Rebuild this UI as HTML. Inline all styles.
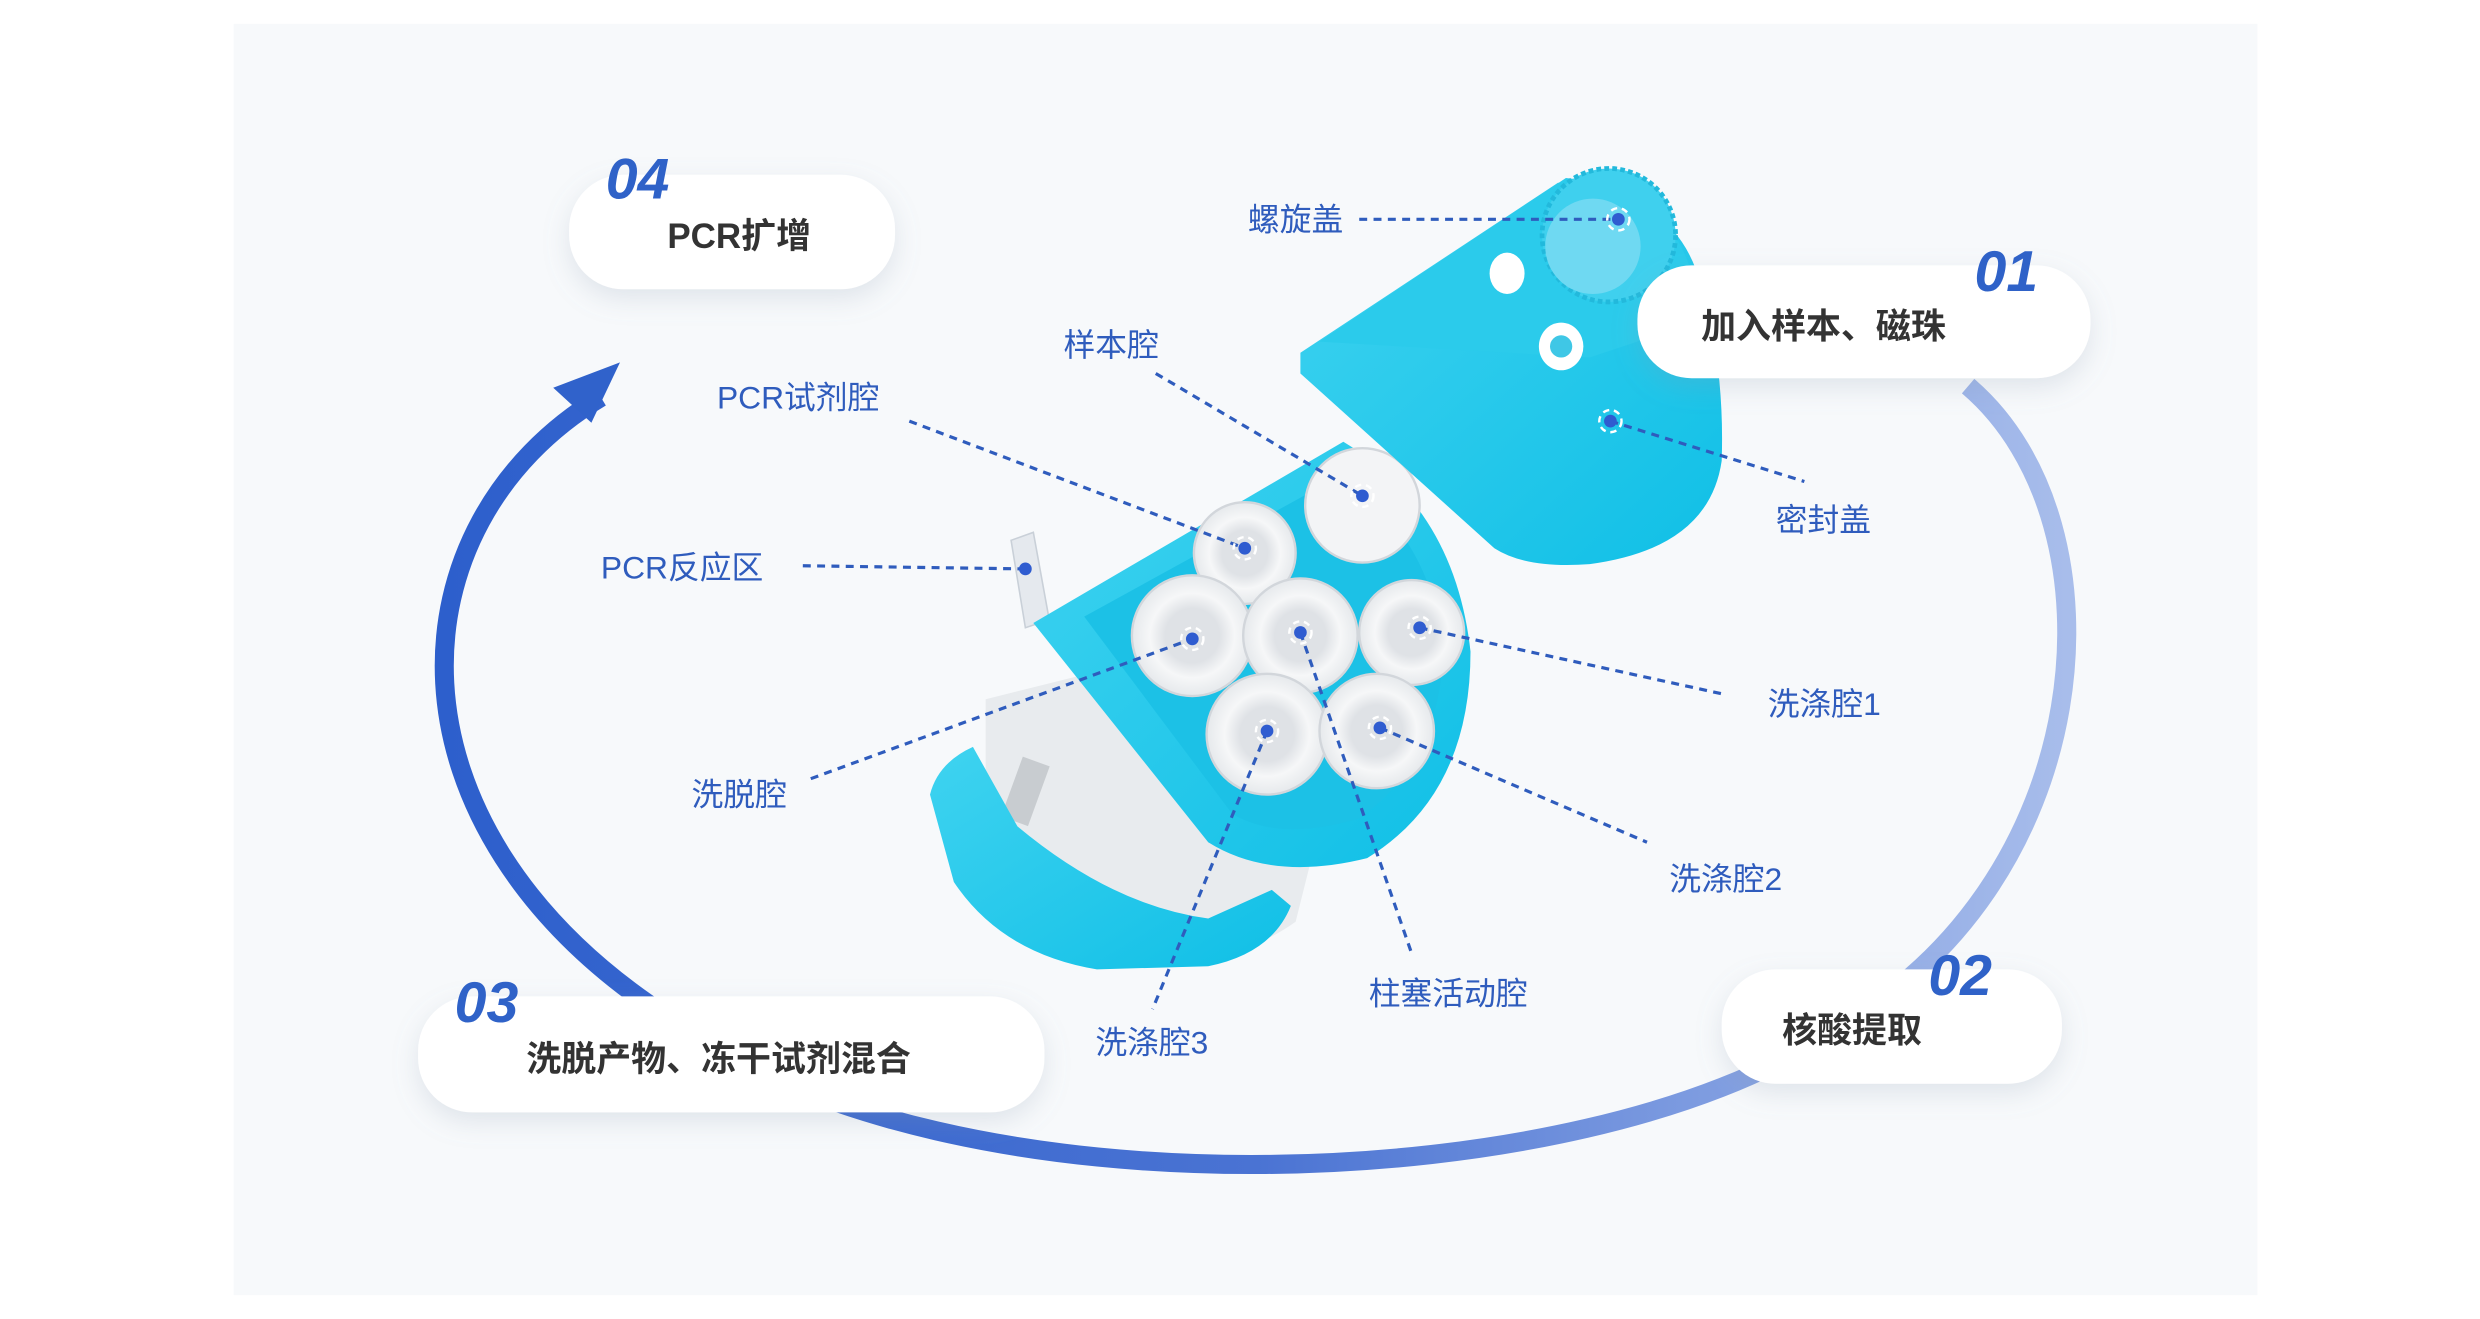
<!DOCTYPE html>
<html><head><meta charset="utf-8">
<style>
html,body{margin:0;padding:0;background:#fff;}
svg{display:block;}
.lbl{font-family:"Liberation Sans","Noto Sans CJK SC",sans-serif;font-size:20px;fill:#2f5cbd;}
.ttl{font-family:"Liberation Sans","Noto Sans CJK SC",sans-serif;font-size:22px;font-weight:bold;fill:#333;}
.num{font-family:"Liberation Sans",sans-serif;font-size:36px;font-style:italic;font-weight:bold;fill:#2f62c8;}
.ln{stroke:#2f5cbd;stroke-width:2;stroke-dasharray:5 4;fill:none;}
</style></head><body>
<svg width="2480" height="1319" viewBox="0 0 1560 830" preserveAspectRatio="none" xmlns="http://www.w3.org/2000/svg">
<defs>
<linearGradient id="ag" x1="280" y1="0" x2="1300" y2="0" gradientUnits="userSpaceOnUse">
<stop offset="0" stop-color="#2d5fcc"/><stop offset="0.5" stop-color="#4a73d3"/><stop offset="1" stop-color="#a8bdeb"/>
</linearGradient>
<filter id="sh" x="-20%" y="-40%" width="140%" height="190%">
<feDropShadow dx="0" dy="6" stdDeviation="8" flood-color="#8a9ab0" flood-opacity="0.22"/>
</filter>
<linearGradient id="cy" x1="0" y1="0" x2="1" y2="1">
<stop offset="0" stop-color="#3fd3f0"/><stop offset="1" stop-color="#10bfe6"/>
</linearGradient>
<radialGradient id="cup" cx="0.5" cy="0.5" r="0.5">
<stop offset="0.45" stop-color="#dfe2e6"/><stop offset="0.7" stop-color="#f6f7f8"/><stop offset="1" stop-color="#e6e9ec"/>
</radialGradient>
</defs>
<rect x="147" y="15" width="1273" height="800" fill="#f7f9fb"/>

<!-- big arc -->
<path d="M1238,243 C1340,330 1320,560 1150,650 C1000,752 600,772 420,640 C235,520 245,330 378,250" fill="none" stroke="url(#ag)" stroke-width="12"/>
<polygon points="390,228 348,244 372,266" fill="#3062cb"/>

<!-- device: lower body -->
<path d="M620,440 L700,420 L830,520 L815,580 Q780,605 740,600 L620,540 Z" fill="#e8ebee"/>
<rect x="636" y="478" width="18" height="40" fill="#c8ccd0" transform="rotate(20 645 498)"/>
<path d="M585,500 Q590,480 612,470 L640,520 Q700,570 760,578 L800,560 L812,570 Q800,600 760,608 L690,610 Q630,600 600,555 Z" fill="url(#cy)"/>
<polygon points="636,340 650,335 660,390 645,395" fill="#e5e9ee" stroke="#c9d0d8" stroke-width="1"/>
<path d="M650,392 L845,278 Q915,320 925,410 Q925,500 860,540 Q800,555 760,530 Z" fill="url(#cy)"/>
<path d="M682,388 L842,300 Q900,335 908,410 Q905,480 855,515 Q805,530 775,512 Z" fill="#1cc1e6"/>
<!-- cups -->
<g stroke="#d2d6db" stroke-width="1.5">
<circle cx="857" cy="318" r="36" fill="#f3f4f6"/>
<circle cx="783" cy="348" r="32" fill="url(#cup)"/>
<circle cx="750" cy="400" r="38" fill="url(#cup)"/>
<circle cx="818" cy="400" r="36" fill="url(#cup)"/>
<circle cx="888" cy="398" r="33" fill="url(#cup)"/>
<circle cx="797" cy="462" r="38" fill="url(#cup)"/>
<circle cx="866" cy="460" r="36" fill="url(#cup)"/>
</g>
<!-- lid -->
<path d="M818,222 L980,115 Q1055,120 1070,180 Q1085,230 1083,290 Q1075,345 1000,355 Q960,358 940,345 L818,235 Z" fill="url(#cy)"/>
<path d="M830,215 L985,112 Q1050,118 1065,175 Q1060,200 1030,215 L1000,225 Z" fill="#2bcbeb"/>
<circle cx="1012" cy="148" r="42" fill="#3fd0ee" stroke="#22b9dc" stroke-width="3" stroke-dasharray="3 2"/>
<circle cx="1002" cy="155" r="30" fill="#6fd9f2"/>
<ellipse cx="948" cy="172" rx="11" ry="13" fill="#fff"/>
<ellipse cx="982" cy="218" rx="14" ry="15" fill="#fff"/>
<circle cx="982" cy="218" r="7" fill="#3fc7e6"/>

<!-- boxes -->
<g filter="url(#sh)" fill="#fff">
<rect x="358" y="110" width="205" height="72" rx="34"/>
<rect x="1030" y="167" width="285" height="71" rx="34"/>
<rect x="1083" y="610" width="214" height="72" rx="34"/>
<rect x="263" y="627" width="394" height="73" rx="34"/>
</g>
<text class="num" x="381" y="125">04</text>
<text class="ttl" x="465" y="156" text-anchor="middle">PCR扩增</text>
<text class="num" x="1242" y="183">01</text>
<text class="ttl" x="1147" y="213" text-anchor="middle">加入样本、磁珠</text>
<text class="num" x="1213" y="626">02</text>
<text class="ttl" x="1165" y="656" text-anchor="middle">核酸提取</text>
<text class="num" x="286" y="643">03</text>
<text class="ttl" x="452" y="674" text-anchor="middle">洗脱产物、冻干试剂混合</text>

<!-- leader lines -->
<path class="ln" d="M855,138 L1018,138"/>
<path class="ln" d="M727,235 L857,312"/>
<path class="ln" d="M572,265 L783,345"/>
<path class="ln" d="M505,356 L645,358"/>
<path class="ln" d="M510,490 L750,402"/>
<path class="ln" d="M1013,265 L1135,303"/>
<path class="ln" d="M893,395 L1085,437"/>
<path class="ln" d="M868,458 L1036,530"/>
<path class="ln" d="M818,398 L888,600"/>
<path class="ln" d="M797,460 L725,635"/>

<g fill="#2f5cd0" stroke="none">
<circle cx="1018" cy="138" r="4"/><circle cx="857" cy="312" r="4"/><circle cx="783" cy="345" r="4"/>
<circle cx="645" cy="358" r="4"/><circle cx="750" cy="402" r="4"/><circle cx="1013" cy="265" r="4"/>
<circle cx="893" cy="395" r="4"/><circle cx="868" cy="458" r="4"/><circle cx="818" cy="398" r="4"/>
<circle cx="797" cy="460" r="4"/>
</g>
<g fill="none" stroke="#fff" stroke-width="1.5" stroke-dasharray="4 3">
<circle cx="1018" cy="138" r="7"/><circle cx="857" cy="312" r="7"/><circle cx="783" cy="345" r="7"/>
<circle cx="750" cy="402" r="7"/><circle cx="1013" cy="265" r="7"/>
<circle cx="893" cy="395" r="7"/><circle cx="868" cy="458" r="7"/><circle cx="818" cy="398" r="7"/>
<circle cx="797" cy="460" r="7"/>
</g>

<text class="lbl" x="785" y="145">螺旋盖</text>
<text class="lbl" x="669" y="224">样本腔</text>
<text class="lbl" x="451" y="257">PCR试剂腔</text>
<text class="lbl" x="378" y="364">PCR反应区</text>
<text class="lbl" x="435" y="507">洗脱腔</text>
<text class="lbl" x="1117" y="334">密封盖</text>
<text class="lbl" x="1112" y="450">洗涤腔1</text>
<text class="lbl" x="1050" y="560">洗涤腔2</text>
<text class="lbl" x="861" y="632">柱塞活动腔</text>
<text class="lbl" x="689" y="663">洗涤腔3</text>
</svg>
</body></html>
